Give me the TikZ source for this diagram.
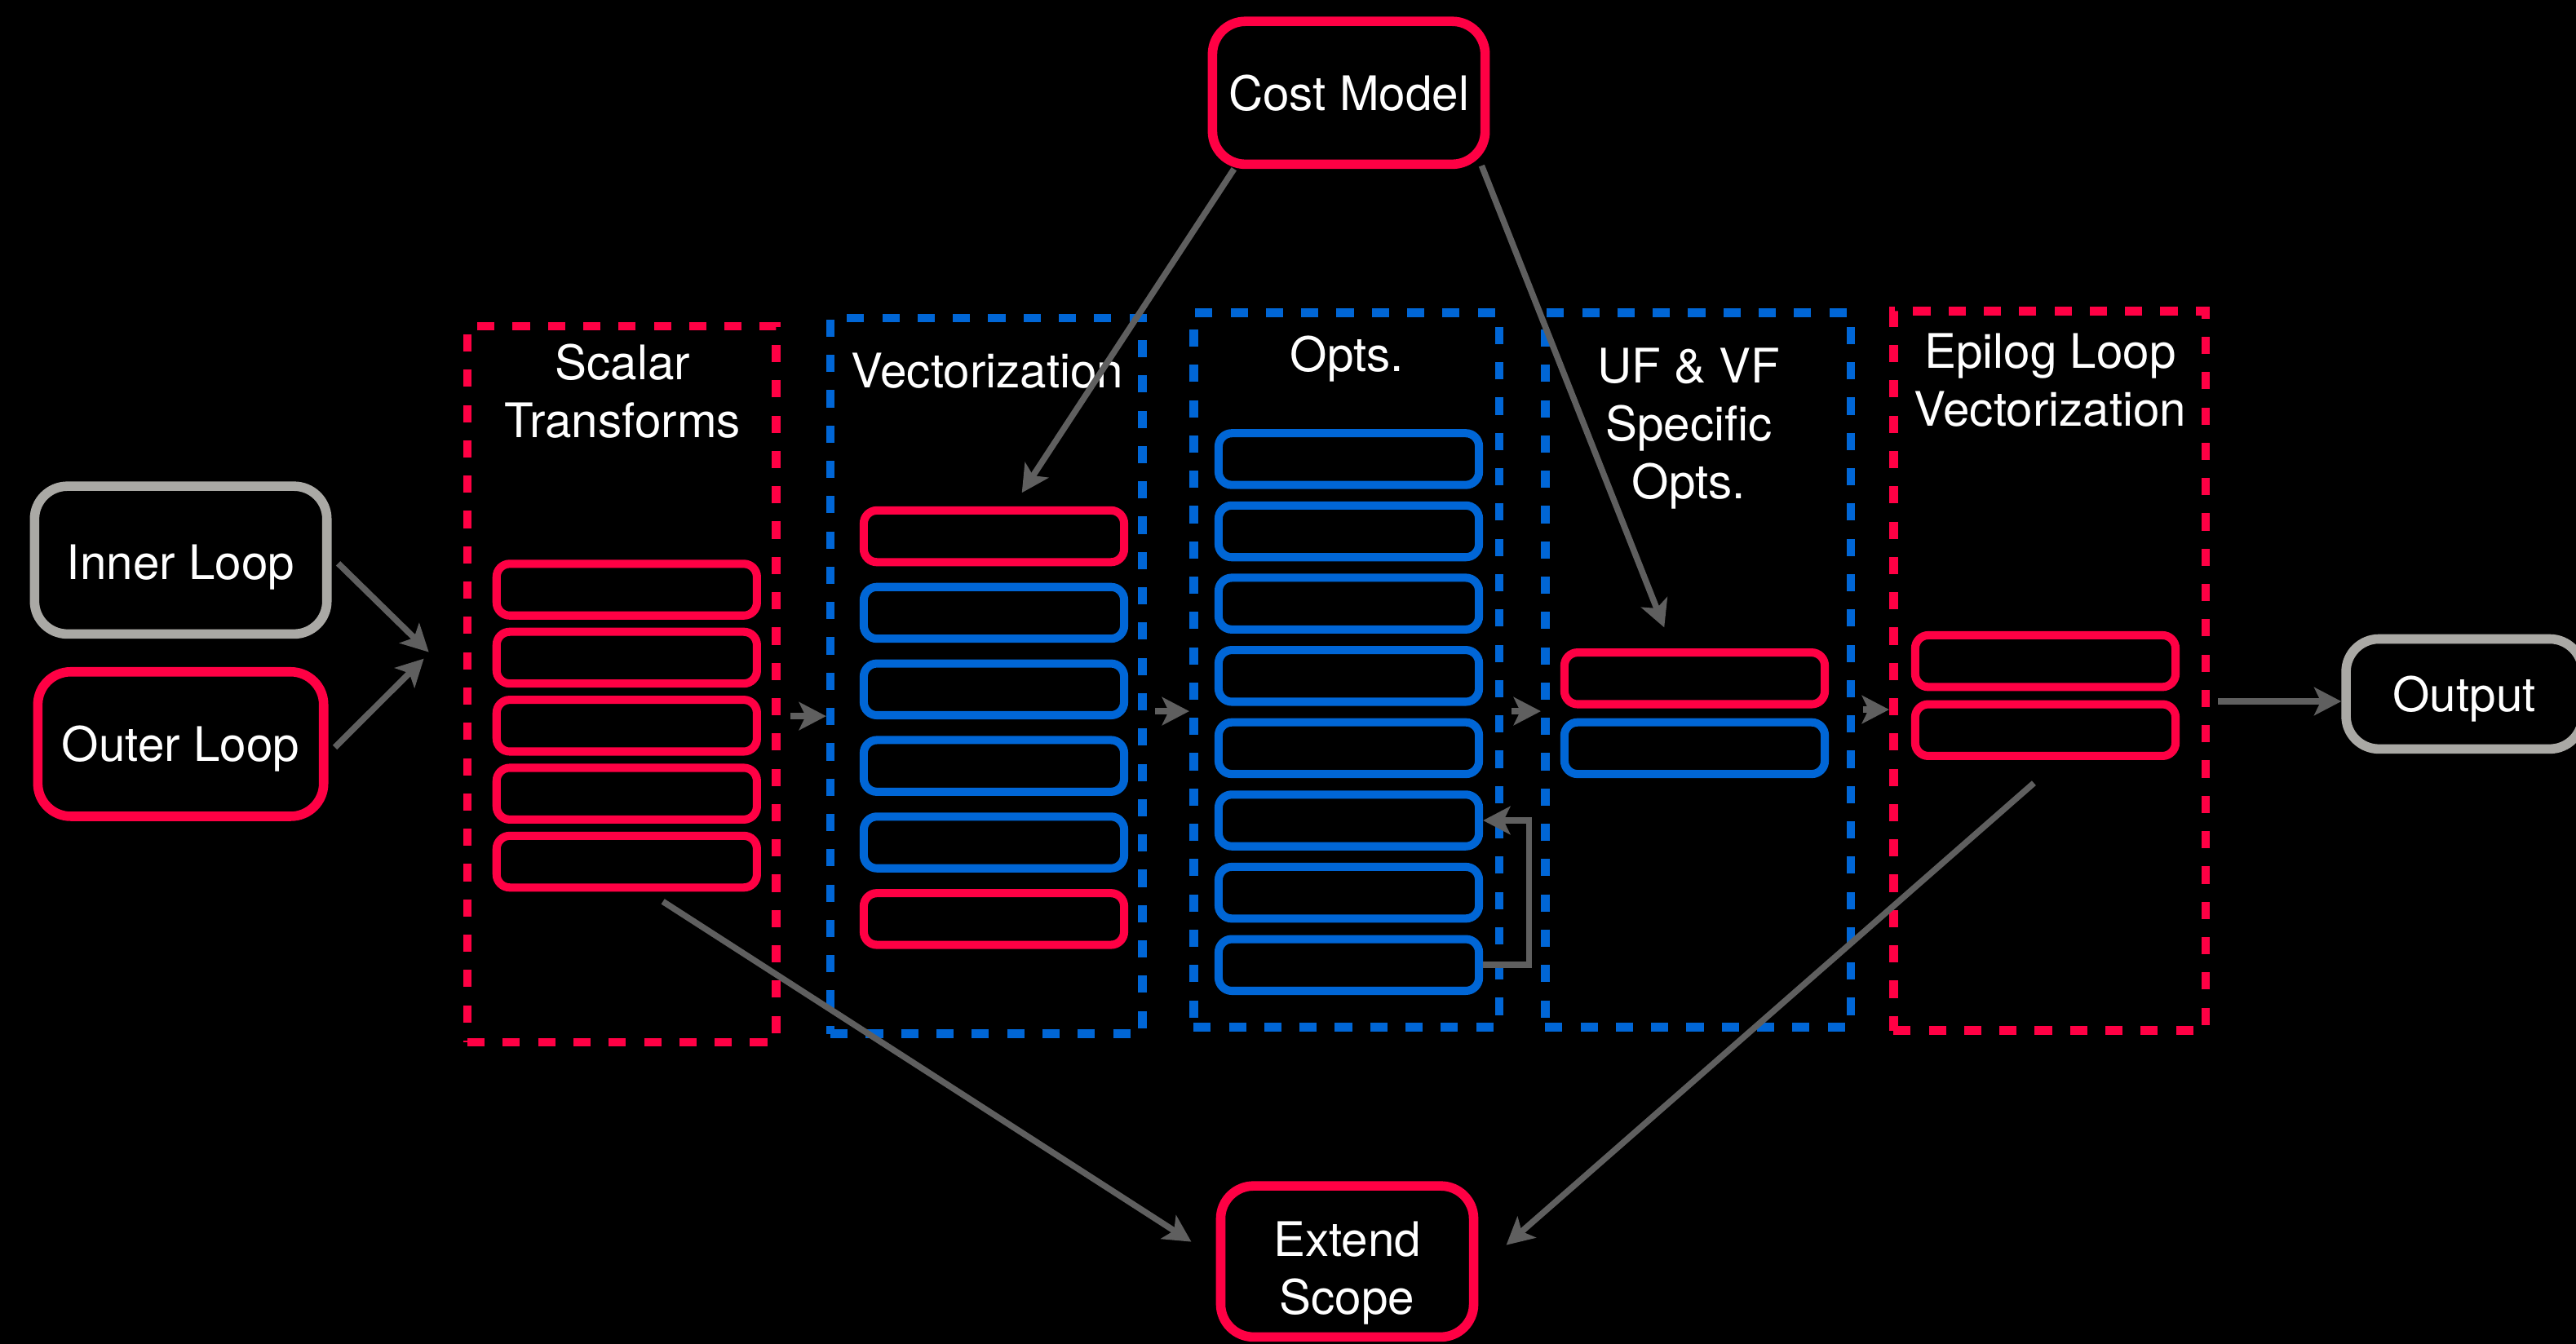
\documentclass[tikz,border=0pt]{standalone}
\usepackage{fontspec}
\setmainfont{TeX Gyre Heros}
\usetikzlibrary{arrows.meta,calc}
\definecolor{hotred}{RGB}{255,0,68}
\definecolor{vecblue}{RGB}{0,102,214}
\definecolor{loopgray}{RGB}{170,169,165}
\definecolor{wiregray}{RGB}{95,95,95}

\begin{document}
\begin{tikzpicture}[x=0.02cm, y=-0.02cm,
  txt/.style={text=white, font=\fontsize{16.5}{20}\selectfont, align=center, inner sep=0pt},
  bigbox/.style={draw, line width=1.15mm, rounded corners=0.4cm, inner sep=0pt},
  panel/.style={draw, line width=1.05mm, dash pattern=on 0.21cm off 0.22cm, inner sep=0pt},
  slot/.style={draw, line width=1mm, rounded corners=0.16cm, minimum width=3.17cm, minimum height=0.63cm, inner sep=0pt},
  wire/.style={draw=wiregray, line width=0.75mm, -{Stealth[length=0.33cm, width=0.34cm, inset=0.08cm]}},
]
% canvas
\useasboundingbox (0,0) rectangle (1568,818);
\fill[black] (0,0) rectangle (1568,818);

% inputs, cost model, extend scope, output (captions nudged to sit optically centred)
\node[bigbox, draw=loopgray, minimum width=3.56cm, minimum height=1.8cm] (inner) at (110,341) {};
\node[txt] (innertext) at ($(inner)+(0,4.5)$) {Inner Loop};
\node[bigbox, draw=hotred, minimum width=3.48cm, minimum height=1.76cm] (outer) at (110,453) {};
\node[txt] (outertext) at ($(outer)+(0,3)$) {Outer Loop};
\node[bigbox, draw=hotred, minimum width=3.32cm, minimum height=1.74cm] (cost) at (821,56.5) {};
\node[txt] (costtext) at (cost) {Cost Model};
\node[bigbox, draw=hotred, minimum width=3.08cm, minimum height=1.84cm] (extend) at (820,768) {};
\node[txt] (extendtext) at ($(extend)+(0,7)$) {Extend\\Scope};
\node[bigbox, draw=loopgray, minimum width=2.88cm, minimum height=1.34cm] (output) at (1500,422.5) {};
\node[txt] (outputtext) at ($(output)+(0,3)$) {Output};

% pipeline panels
\node[panel, draw=hotred, minimum width=3.76cm, minimum height=8.72cm] (scalar) at (378.5,416.5) {};
\node[panel, draw=vecblue, minimum width=3.8cm, minimum height=8.72cm] (vect) at (600.5,411.5) {};
\node[panel, draw=vecblue, minimum width=3.72cm, minimum height=8.7cm] (opts) at (819.5,408) {};
\node[panel, draw=vecblue, minimum width=3.72cm, minimum height=8.7cm] (ufvf) at (1033.5,408) {};
\node[panel, draw=hotred, minimum width=3.8cm, minimum height=8.76cm] (epilog) at (1247.5,408.5) {};

% panel titles
\node[txt] (tscalar) at (379,238) {Scalar\\Transforms};
\node[txt] (tvect) at (601,225.5) {Vectorization};
\node[txt] (topts) at (820,218.5) {Opts.};
\node[txt] (tufvf) at (1028,261) {UF \& VF\\Specific\\Opts.};
\node[txt] (tepilog) at (1248,231.5) {Epilog Loop\\Vectorization};

% scalar transform slots
\foreach \i in {1,...,5}
  \node[slot, draw=hotred] (s\i) at (381.5,{359+41.4*(\i-1)}) {};

% vectorization slots
\foreach \i/\c in {1/hotred,2/vecblue,3/vecblue,4/vecblue,5/vecblue,6/hotred}
  \node[slot, draw=\c] (v\i) at (605,{326.5+46.6*(\i-1)}) {};

% optimisation slots
\foreach \i in {1,...,8}
  \node[slot, draw=vecblue] (o\i) at (821,{279.5+44*(\i-1)}) {};

% UF & VF specific slots
\node[slot, draw=hotred] (u1) at (1031.5,413) {};
\node[slot, draw=vecblue] (u2) at (1031.5,455.5) {};

% epilog slots
\node[slot, draw=hotred] (e1) at (1245,402.5) {};
\node[slot, draw=hotred] (e2) at (1245,444.5) {};

% connector end points
\coordinate (join1) at (261,397);
\coordinate (join2) at (258,401);
\coordinate (vtip) at (622,300);
\coordinate (utip) at (1013,382);
\coordinate (rowa) at (0,436);
\coordinate (rowb) at (0,433);

% inputs into the scalar stage
\draw[wire] ($(inner.east)+(4,2)$) -- (join1);
\draw[wire] ($(outer.east)+(4,2)$) -- (join2);

% stage to stage
\draw[wire] ($(scalar.east |- rowa)+(6,0)$) -- (vect.west |- rowa);
\draw[wire] ($(vect.east |- rowb)+(5,0)$) -- (opts.west |- rowb);
\draw[wire] ($(opts.east |- rowb)+(5,0)$) -- (ufvf.west |- rowb);
\draw[wire] ($(ufvf.east |- rowb)+(5,-1)$) -- ($(epilog.west |- rowb)+(0,-1)$);
\draw[wire] ($(epilog.east)+(5,18.5)$) -- ($(output.west)+(0,4.5)$);

% cost model feedback
\draw[wire] ($(cost.south west)+(16,0)$) -- (vtip);
\draw[wire] ($(cost.south east)+(-5,-2)$) -- (utip);

% repeated optimisation loop
\draw[wire] (o8.east) -- ++(28,0) |- (o6.east);

% scope extension
\draw[wire] ($(s5.south)+(22,6)$) -- ($(extend.west)+(-15,-12)$);
\draw[wire] ($(e2.south)+(-7,14)$) -- ($(extend.east)+(17,-10)$);
\end{tikzpicture}
\end{document}
